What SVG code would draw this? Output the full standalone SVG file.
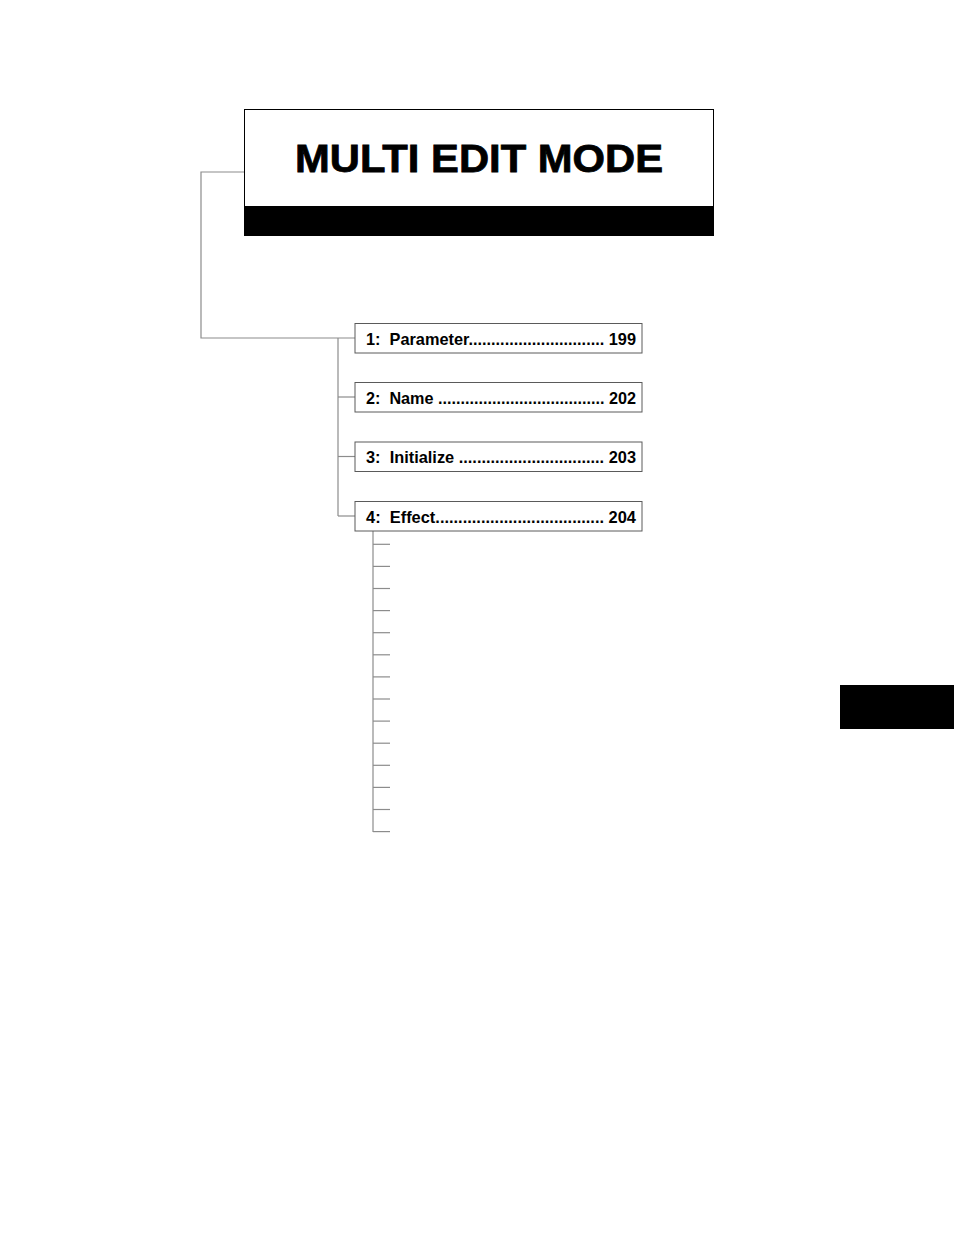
<svg xmlns="http://www.w3.org/2000/svg" width="954" height="1235" viewBox="0 0 954 1235">
<style>
.conn{stroke:#8c8c8c;stroke-width:1.2;fill:none}
.box{fill:#fff;stroke:#5a5a5a;stroke-width:1}
.lbl{font-family:"Liberation Sans",Arial,sans-serif;font-weight:bold;font-size:17px;fill:#000}
.title{font-family:"Liberation Sans",Arial,sans-serif;font-weight:bold;font-size:39px;fill:#000;stroke:#000;stroke-width:0.8}
</style>
<rect width="954" height="1235" fill="#fff"/>
<g id="connectors">
<polyline class="conn" points="244,172 201,172 201,338 355,338"/>
<polyline class="conn" points="338,338 338,516"/>
<line class="conn" x1="338" y1="397" x2="355" y2="397"/>
<line class="conn" x1="338" y1="456.5" x2="355" y2="456.5"/>
<line class="conn" x1="338" y1="516" x2="355" y2="516"/>
<line class="conn" x1="373" y1="531" x2="373" y2="832"/>
<g class="conn">
<line x1="373" y1="544.3" x2="390" y2="544.3"/>
<line x1="373" y1="566.4" x2="390" y2="566.4"/>
<line x1="373" y1="588.5" x2="390" y2="588.5"/>
<line x1="373" y1="610.6" x2="390" y2="610.6"/>
<line x1="373" y1="632.7" x2="390" y2="632.7"/>
<line x1="373" y1="654.8" x2="390" y2="654.8"/>
<line x1="373" y1="676.9" x2="390" y2="676.9"/>
<line x1="373" y1="699.0" x2="390" y2="699.0"/>
<line x1="373" y1="721.1" x2="390" y2="721.1"/>
<line x1="373" y1="743.2" x2="390" y2="743.2"/>
<line x1="373" y1="765.3" x2="390" y2="765.3"/>
<line x1="373" y1="787.4" x2="390" y2="787.4"/>
<line x1="373" y1="809.5" x2="390" y2="809.5"/>
<line x1="373" y1="831.6" x2="390" y2="831.6"/>
</g>
</g>
<g id="title">
<rect x="244.5" y="109.5" width="469" height="97" fill="#fff" stroke="#000" stroke-width="1"/>
<rect x="244" y="206" width="470" height="30" fill="#000"/>
<text class="title" x="295" y="172" textLength="368" lengthAdjust="spacingAndGlyphs">MULTI EDIT MODE</text>
</g>
<g id="item1">
<rect class="box" x="355" y="323.5" width="287" height="29.5"/>
<text class="lbl" x="366" y="344.5" textLength="270" lengthAdjust="spacingAndGlyphs">1:&#160;&#160;Parameter..............................&#160;199</text>
</g>
<g id="item2">
<rect class="box" x="355" y="382.5" width="287" height="29.5"/>
<text class="lbl" x="366" y="403.5" textLength="270" lengthAdjust="spacingAndGlyphs">2:&#160;&#160;Name&#160;.....................................&#160;202</text>
</g>
<g id="item3">
<rect class="box" x="355" y="442" width="287" height="29.5"/>
<text class="lbl" x="366" y="463" textLength="270" lengthAdjust="spacingAndGlyphs">3:&#160;&#160;Initialize&#160;................................&#160;203</text>
</g>
<g id="item4">
<rect class="box" x="355" y="501.5" width="287" height="29.5"/>
<text class="lbl" x="366" y="522.5" textLength="270" lengthAdjust="spacingAndGlyphs">4:&#160;&#160;Effect.....................................&#160;204</text>
</g>
<g id="tab">
<rect x="840" y="685" width="114" height="44" fill="#000"/>
</g>
</svg>
